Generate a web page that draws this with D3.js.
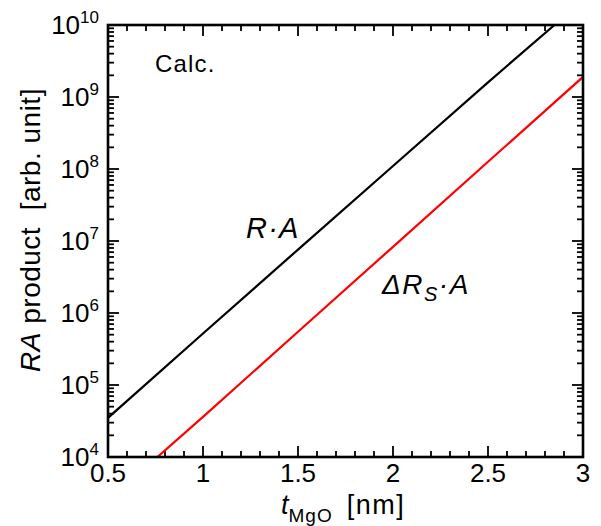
<!DOCTYPE html>
<html>
<head>
<meta charset="utf-8">
<script src="https://cdn.jsdelivr.net/npm/d3@7"></script>
<style>
  body { margin: 0; background: #fff; }
  text { font-family: "Liberation Sans", Arial, sans-serif; fill: #000; }
</style>
</head>
<body>
<script>
// values (t in nm, RA in arb. unit)
var tRA = [0.5, 1.0, 1.5, 2.0, 2.5, 2.85];
var valRA = [3.5e4, 5.2e5, 7.6e6, 1.1e8, 1.6e9, 1.0e10];
var tDRS = [0.76, 1.0, 1.5, 2.0, 2.5, 3.0];
var valDRS = [1.0e4, 3.6e4, 5.5e5, 8.3e6, 1.26e8, 1.9e9];

var xMajor = [0.5, 1, 1.5, 2, 2.5, 3];
var xTickLabels = ["0.5", "1", "1.5", "2", "2.5", "3"];
var yExponents = [4, 5, 6, 7, 8, 9, 10];

var width = 601,
  height = 526;
var margin = { left: 108, right: 18, top: 25, bottom: 69 };
var x0 = margin.left, x1 = width - margin.right;
var y0 = height - margin.bottom, y1 = margin.top;

var x = d3.scaleLinear().domain([0.5, 3]).range([x0, x1]);
var y = d3.scaleLog().domain([1e4, 1e10]).range([y0, y1]);

var svg = d3
  .select("body")
  .append("svg")
  .attr("width", width)
  .attr("height", height);

// ticks (inward on all four sides)
var xMinor = d3.range(5, 31).map(function(d) { return d / 10; });
var yMinor = [];
for (var e = 4; e < 10; e++) {
  for (var m = 2; m <= 9; m++) yMinor.push(m * Math.pow(10, e));
}

var tk = svg.append("g").attr("stroke", "#000").attr("stroke-width", 1.8);
xMinor.forEach(function(d) {
  var major = xMajor.some(function(v) { return Math.abs(v - d) < 1e-6; });
  var len = major ? 11 : 6;
  tk.append("line").attr("x1", x(d)).attr("x2", x(d)).attr("y1", y0).attr("y2", y0 - len);
  tk.append("line").attr("x1", x(d)).attr("x2", x(d)).attr("y1", y1).attr("y2", y1 + len);
});
yExponents.forEach(function(e) {
  var v = Math.pow(10, e);
  tk.append("line").attr("x1", x0).attr("x2", x0 + 11).attr("y1", y(v)).attr("y2", y(v));
  tk.append("line").attr("x1", x1).attr("x2", x1 - 11).attr("y1", y(v)).attr("y2", y(v));
});
yMinor.forEach(function(v) {
  tk.append("line").attr("x1", x0).attr("x2", x0 + 6).attr("y1", y(v)).attr("y2", y(v));
  tk.append("line").attr("x1", x1).attr("x2", x1 - 6).attr("y1", y(v)).attr("y2", y(v));
});

// lines
var clipId = "plotclip";
svg.append("clipPath").attr("id", clipId)
  .append("rect").attr("x", x0).attr("y", y1).attr("width", x1 - x0).attr("height", y0 - y1);

var line = d3.line()
  .x(function(d) { return x(d[0]); })
  .y(function(d) { return y(d[1]); });

svg.append("path")
  .datum(d3.zip(tRA, valRA))
  .attr("clip-path", "url(#" + clipId + ")")
  .attr("fill", "none").attr("stroke", "#000").attr("stroke-width", 2.2)
  .attr("d", line);

svg.append("path")
  .datum(d3.zip(tDRS, valDRS))
  .attr("clip-path", "url(#" + clipId + ")")
  .attr("fill", "none").attr("stroke", "#ff0000").attr("stroke-width", 2.2)
  .attr("d", line);

// frame
svg.append("rect")
  .attr("x", x0).attr("y", y1)
  .attr("width", x1 - x0).attr("height", y0 - y1)
  .attr("fill", "none").attr("stroke", "#000").attr("stroke-width", 2.6);

// x tick labels
svg.append("g").selectAll("text")
  .data(xMajor)
  .join("text")
  .attr("x", function(d) { return x(d); })
  .attr("y", y0 + 25)
  .attr("text-anchor", "middle")
  .attr("font-size", 26)
  .text(function(d, i) { return xTickLabels[i]; });

// y tick labels 10^n
var yl = svg.append("g").selectAll("text")
  .data(yExponents)
  .join("text")
  .attr("x", x0 - 9)
  .attr("y", function(d) { return y(Math.pow(10, d)) + 9; })
  .attr("text-anchor", "end")
  .attr("font-size", 26);
yl.append("tspan").text("10");
yl.append("tspan").attr("dy", -11).attr("font-size", 17).text(function(d) { return d; });

// axis titles
var xt = svg.append("text")
  .attr("x", 281).attr("y", 514)
  .attr("font-size", 27);
xt.append("tspan").attr("font-style", "italic").text("t");
xt.append("tspan").attr("dy", 8).attr("font-size", 19).attr("letter-spacing", 1).text("MgO");
xt.append("tspan").attr("dy", -8).attr("dx", 14).attr("letter-spacing", 1.5).text("[nm]");

var yt = svg.append("text")
  .attr("transform", "translate(40," + 230 + ") rotate(-90)")
  .attr("text-anchor", "middle")
  .attr("font-size", 28)
  .attr("letter-spacing", 0.5);
yt.append("tspan").attr("font-style", "italic").text("RA");
yt.append("tspan").text(" product\u00a0 [arb. unit]");

// annotations
svg.append("text")
  .attr("x", 155).attr("y", 72)
  .attr("font-size", 24)
  .attr("letter-spacing", 1.2)
  .text("Calc.");

svg.append("text")
  .attr("x", 246).attr("y", 238)
  .attr("font-size", 29).attr("font-style", "italic")
  .attr("letter-spacing", 1.2)
  .text("R\u00b7A");

var dl = svg.append("text")
  .attr("x", 382).attr("y", 294)
  .attr("font-size", 28).attr("font-style", "italic")
  .attr("letter-spacing", 1.5);
dl.append("tspan").text("\u0394R");
dl.append("tspan").attr("dy", 7).attr("font-size", 20).text("S");
dl.append("tspan").attr("dy", -7).text("\u00b7A");
</script>
</body>
</html>
